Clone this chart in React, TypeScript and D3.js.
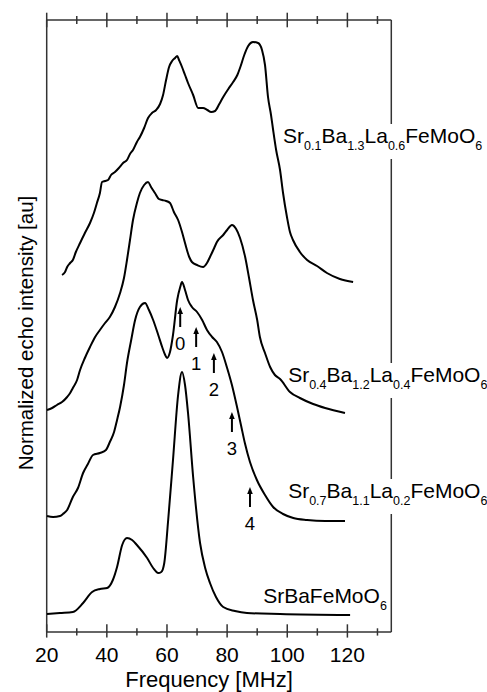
import React from "react";
import * as d3 from "d3";

// Frequency (MHz) and normalized echo intensity (au, stacked offsets included)
const s1Freq = [25.1,26.1,26.8,27.8,28.7,29.7,31.1,32.7,34.4,35.7,36.7,37.7,38.4,39.4,40.4,41.4,42.7,44.0,45.4,46.7,47.7,48.7,50.0,51.0,52.4,53.7,55.0,56.4,57.7,58.7,59.7,60.7,61.7,62.7,63.4,64.0,65.0,66.0,67.0,68.7,70.4,72.0,73.4,74.7,76.0,77.4,78.7,80.4,82.0,83.4,84.4,85.7,87.0,88.6,90.3,91.6,92.6,93.6,94.6,95.3,96.3,97.6,98.6,99.9,100.9,101.9,104.2,106.6,109.9,113.2,117.5,121.9];
const s1Val = [357,360,365,369,372,380,389,399,409,419,429,439,450,451,452,457,460,464,469,472,478,482,490,495,504,514,519,522,528,537,552,565,571,574,576,572,565,557,549,537,524,524,522,520,521,528,535,543,550,557,565,577,586,590,589,582,567,535,517,502,482,462,439,415,400,392,380,372,366,359,353,350];

const s2Freq = [20.1,21.8,23.4,25.1,26.8,27.8,28.7,30.1,31.1,32.7,34.4,36.1,37.7,39.4,41.0,42.7,44.4,45.7,46.7,47.7,48.7,50.0,51.0,52.4,53.7,54.7,56.0,57.3,58.4,59.7,61.0,62.3,63.7,65.0,66.0,67.4,68.3,70.0,72.0,73.3,74.3,75.7,76.6,78.7,80.0,81.6,83.0,84.3,86.0,87.3,88.6,90.0,90.9,92.6,94.3,95.9,97.6,100.9,104.2,108.6,112.6,119.2];
const s2Val = [222,224,227,230,235,239,244,252,262,274,285,295,302,309,315,325,339,354,372,392,412,429,439,447,450,445,439,433,432,431,429,420,412,400,389,375,370,367,365,369,375,384,390,397,402,407,403,394,375,354,332,312,295,279,265,257,253,240,234,228,224,219];

const s3Freq = [20.1,22.1,24.4,25.4,26.8,28.7,30.4,32.1,33.7,35.4,37.7,39.7,41.0,42.4,43.4,44.4,45.7,46.7,48.1,49.4,51.0,52.7,54.0,55.4,57.1,58.4,59.4,60.0,61.0,62.0,63.4,64.4,65.0,66.0,67.0,68.3,70.0,71.7,73.3,75.0,76.6,78.3,79.9,81.6,83.3,84.6,85.9,87.6,89.9,92.6,95.3,98.6,102.0,106.6,112.6,119.2];
const s3Val = [116,115,116,118,122,135,144,159,168,177,179,182,190,200,212,225,247,269,292,312,325,329,322,312,297,285,277,274,280,297,332,345,350,342,332,325,320,312,302,295,290,280,265,247,225,207,189,170,152,137,125,118,114,112,111,111];

const s4Freq = [20.1,24.4,28.7,32.1,35.1,37.7,40.1,42.0,43.4,45.1,46.7,48.4,50.0,53.4,55.4,57.1,58.1,59.1,60.4,62.0,63.7,65.0,66.0,67.0,68.7,71.0,72.7,74.3,76.3,78.7,82.6,86.6,97.6,120.9];
const s4Val = [18,19,20,29,40,43,44,52,65,87,94,92,87,74,64,59,60,69,112,172,237,260,247,219,155,89,64,49,35,25,21,19,18,17];

const arrowFreq = [64.4, 69.7, 75.6, 81.6, 87.6];
const arrowTip = [325, 305, 279, 220, 145];
const arrowLabels = ["0", "1", "2", "3", "4"];

const xMajorTicks = [20, 40, 60, 80, 100, 120];
const xMinorTicks = [30, 50, 70, 90, 110, 130];

const seriesLabels = [
  { parts: [["Sr", false], ["0.1", true], ["Ba", false], ["1.3", true], ["La", false], ["0.6", true], ["FeMoO", false], ["6", true]], f: 98.6, v: 489, cut: true },
  { parts: [["Sr", false], ["0.4", true], ["Ba", false], ["1.2", true], ["La", false], ["0.4", true], ["FeMoO", false], ["6", true]], f: 100.3, v: 250, cut: true },
  { parts: [["Sr", false], ["0.7", true], ["Ba", false], ["1.1", true], ["La", false], ["0.2", true], ["FeMoO", false], ["6", true]], f: 100.3, v: 134, cut: true },
  { parts: [["SrBaFeMoO", false], ["6", true]], f: 92.0, v: 29, cut: false },
];

const FONT = "'Liberation Sans', Arial, sans-serif";

export default function App() {
  const W = 487, H = 692;
  const x = d3.scaleLinear().domain([20, 134.6]).range([46.7, 391.3]);
  const y = d3.scaleLinear().domain([0, 612]).range([632, 20]);
  const line = d3.line<[number, number]>().x(d => x(d[0])).y(d => y(d[1])).curve(d3.curveMonotoneX);
  const series = [
    [s1Freq, s1Val],
    [s2Freq, s2Val],
    [s3Freq, s3Val],
    [s4Freq, s4Val],
  ].map(([f, v]) => f.map((fi, i) => [fi, v[i]] as [number, number]));

  const x0 = x(20), x1 = x(134.6), yTop = y(612), yBot = y(0);
  const axisColor = "#333";

  return (
    <svg width={W} height={H} style={{ position: "absolute", left: 0, top: 0, background: "#fff" }} fontFamily={FONT}>
      <rect x={0} y={0} width={W} height={H} fill="#fff" />
      {/* frame */}
      <line x1={x0} x2={x1} y1={yTop} y2={yTop} stroke={axisColor} strokeWidth={1.5} />
      <line x1={x0} x2={x1} y1={yBot} y2={yBot} stroke={axisColor} strokeWidth={1.5} />
      <line x1={x0} x2={x0} y1={yTop} y2={yBot} stroke={axisColor} strokeWidth={1.5} />
      <line x1={x1} x2={x1} y1={yTop} y2={yBot} stroke={axisColor} strokeWidth={1.5} />
      {xMajorTicks.map(t => (
        <g key={"M" + t}>
          <line x1={x(t)} x2={x(t)} y1={yTop - 7.3} y2={yTop + 7.3} stroke={axisColor} strokeWidth={1.5} />
          <line x1={x(t)} x2={x(t)} y1={yBot - 7.7} y2={yBot + 5.6} stroke={axisColor} strokeWidth={1.5} />
          <text x={x(t)} y={662} textAnchor="middle" fontSize={21} fill="#000">{t}</text>
        </g>
      ))}
      {xMinorTicks.map(t => (
        <g key={"m" + t}>
          <line x1={x(t)} x2={x(t)} y1={yTop - 4} y2={yTop + 4} stroke={axisColor} strokeWidth={1.5} />
          <line x1={x(t)} x2={x(t)} y1={yBot - 3.7} y2={yBot + 3.6} stroke={axisColor} strokeWidth={1.5} />
        </g>
      ))}
      <text x={209} y={687} textAnchor="middle" fontSize={22} fill="#000">Frequency [MHz]</text>
      <text transform="translate(33,333) rotate(-90)" textAnchor="middle" fontSize={20.5} fill="#000">Normalized echo intensity [au]</text>

      {series.map((d, i) => (
        <path key={i} d={line(d) || ""} fill="none" stroke="#000" strokeWidth={2} strokeLinejoin="round" />
      ))}

      {arrowFreq.map((f, i) => {
        const ax = x(f), tip = y(arrowTip[i]), tail = y(arrowTip[i] - 20);
        return (
          <g key={"a" + i}>
            <line x1={ax} x2={ax} y1={tip + 5} y2={tail} stroke="#000" strokeWidth={2} />
            <path d={`M${ax},${tip} L${ax - 2.8},${tip + 7} L${ax + 2.8},${tip + 7} Z`} fill="#000" />
            <text x={ax} y={tail + 23} textAnchor="middle" fontSize={18.5} fill="#000">{arrowLabels[i]}</text>
          </g>
        );
      })}

      {seriesLabels.map((L, i) => {
        const bx = x(L.f), by = y(L.v);
        return (
          <g key={"l" + i}>
            {L.cut && <rect x={x1 - 5} y={by - 19} width={10} height={35} fill="#fff" />}
            <text x={bx} y={by} fontSize={21} fill="#000">
              {L.parts.map(([s, sub], j) => {
                const prevSub = j > 0 && L.parts[j - 1][1];
                const dy = sub ? 7 : prevSub ? -7 : 0;
                return (
                  <tspan key={j} dy={dy} fontSize={sub ? 12.5 : 21}>{s as string}</tspan>
                );
              })}
            </text>
          </g>
        );
      })}
    </svg>
  );
}
